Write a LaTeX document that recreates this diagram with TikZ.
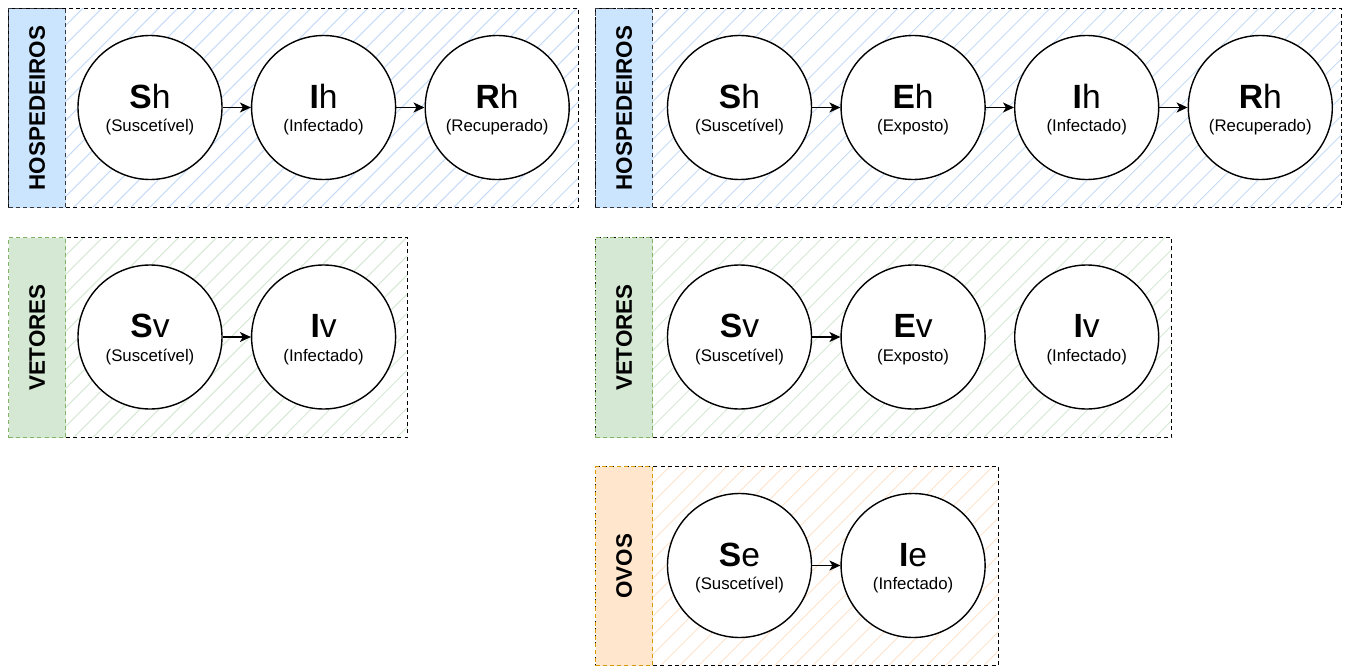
\documentclass[tikz,border=0pt]{standalone}
\usepackage{fontspec}
\setmainfont{Liberation Sans}
\usetikzlibrary{arrows.meta, positioning}
\definecolor{hostfill}{HTML}{CCE5FF}
\definecolor{hostline}{HTML}{36393D}
\definecolor{hosthatch}{HTML}{C6DBF7}
\definecolor{vecfill}{HTML}{D5E8D4}
\definecolor{vecline}{HTML}{82B366}
\definecolor{vechatch}{HTML}{D6E8D5}
\definecolor{eggfill}{HTML}{FFE6CC}
\definecolor{eggline}{HTML}{D79B00}
\definecolor{egghatch}{HTML}{FDE2CA}
\newcommand{\compartment}[3]{{\fontsize{33.6}{40}\selectfont\rule{0pt}{28.3pt}\textbf{#1}#2}\\(#3)}
\newcommand{\grouplabel}[1]{\rotatebox{90}{\fontsize{22.4}{26}\selectfont\textbf{#1}}}

\begin{document}
\begin{tikzpicture}[
        x=1pt, y=-1pt,
        node distance=28.2pt,
        hatch/.style={path picture={
            \foreach \t in {0,19,...,1000}
                \draw[#1, solid, line width=1pt] ([xshift=\t pt-220pt]path picture bounding box.south west) -- ++(260pt,260pt);
        }},
        groupbox/.style={rectangle, draw, dash pattern=on 4pt off 3.2pt, line width=1.2pt, anchor=north west, inner sep=0pt},
        labelbox/.style={rectangle, draw, dash pattern=on 4pt off 3.2pt, line width=1.2pt, anchor=north west, inner sep=0pt, minimum width=57pt, minimum height=199pt},
        comp/.style={circle, draw, fill=white, line width=1.4pt, minimum size=144pt, inner sep=0pt, align=center,
            font=\fontsize{16.8}{23.4}\selectfont},
        arrow/.style={-{Stealth[length=11pt, width=10pt, inset=3pt]}, line width=1.4pt}
    ]
        \useasboundingbox (0,0) rectangle (1349,666);

        % hospedeiros
        \node[groupbox, hatch=hosthatch, minimum width=570pt, minimum height=199pt] (hostA) at (8,8) {};
        \node[labelbox, fill=hostfill, draw=hostline] (hostAlbl) at (8,8) {\grouplabel{HOSPEDEIROS}};
        \node[groupbox, hatch=hosthatch, minimum width=746pt, minimum height=199pt] (hostB) at (595,8) {};
        \node[labelbox, fill=hostfill, draw=hostline] (hostBlbl) at (595,8) {\grouplabel{HOSPEDEIROS}};

        % vetores
        \node[groupbox, hatch=vechatch, minimum width=399pt, minimum height=200pt] (vecA) at (8,237) {};
        \node[labelbox, fill=vecfill, draw=vecline, minimum height=200pt] (vecAlbl) at (8,237) {\grouplabel{VETORES}};
        \node[groupbox, hatch=vechatch, minimum width=576pt, minimum height=200pt] (vecB) at (595,237) {};
        \node[labelbox, fill=vecfill, draw=vecline, minimum height=200pt] (vecBlbl) at (595,237) {\grouplabel{VETORES}};

        % ovos
        \node[groupbox, hatch=egghatch, minimum width=403pt, minimum height=199pt] (eggB) at (595,466) {};
        \node[labelbox, fill=eggfill, draw=eggline] (eggBlbl) at (595,466) {\grouplabel{OVOS}};

        % modelo SIR
        \node[comp] (shA) at (150,107.5) {\compartment{S}{h}{Suscetível}};
        \node[comp, right=of shA] (ihA) {\compartment{I}{h}{Infectado}};
        \node[comp, right=of ihA] (rhA) {\compartment{R}{h}{Recuperado}};
        \node[comp] (svA) at (150,337) {\compartment{S}{v}{Suscetível}};
        \node[comp, right=of svA] (ivA) {\compartment{I}{v}{Infectado}};

        % modelo SEIR
        \node[comp] (shB) at (739.5,107.5) {\compartment{S}{h}{Suscetível}};
        \node[comp, right=of shB] (ehB) {\compartment{E}{h}{Exposto}};
        \node[comp, right=of ehB] (ihB) {\compartment{I}{h}{Infectado}};
        \node[comp, right=of ihB] (rhB) {\compartment{R}{h}{Recuperado}};
        \node[comp] (svB) at (739.5,337) {\compartment{S}{v}{Suscetível}};
        \node[comp, right=of svB] (evB) {\compartment{E}{v}{Exposto}};
        \node[comp, right=of evB] (ivB) {\compartment{I}{v}{Infectado}};
        \node[comp] (seB) at (739.5,565.5) {\compartment{S}{e}{Suscetível}};
        \node[comp, right=of seB] (ieB) {\compartment{I}{e}{Infectado}};

        \draw[arrow] (shA) -- (ihA);
        \draw[arrow] (ihA) -- (rhA);
        \draw[arrow] (svA) -- (ivA);
        \draw[arrow] (shB) -- (ehB);
        \draw[arrow] (ehB) -- (ihB);
        \draw[arrow] (ihB) -- (rhB);
        \draw[arrow] (svB) -- (evB);
        \draw[arrow] (seB) -- (ieB);
    \end{tikzpicture}
\end{document}
